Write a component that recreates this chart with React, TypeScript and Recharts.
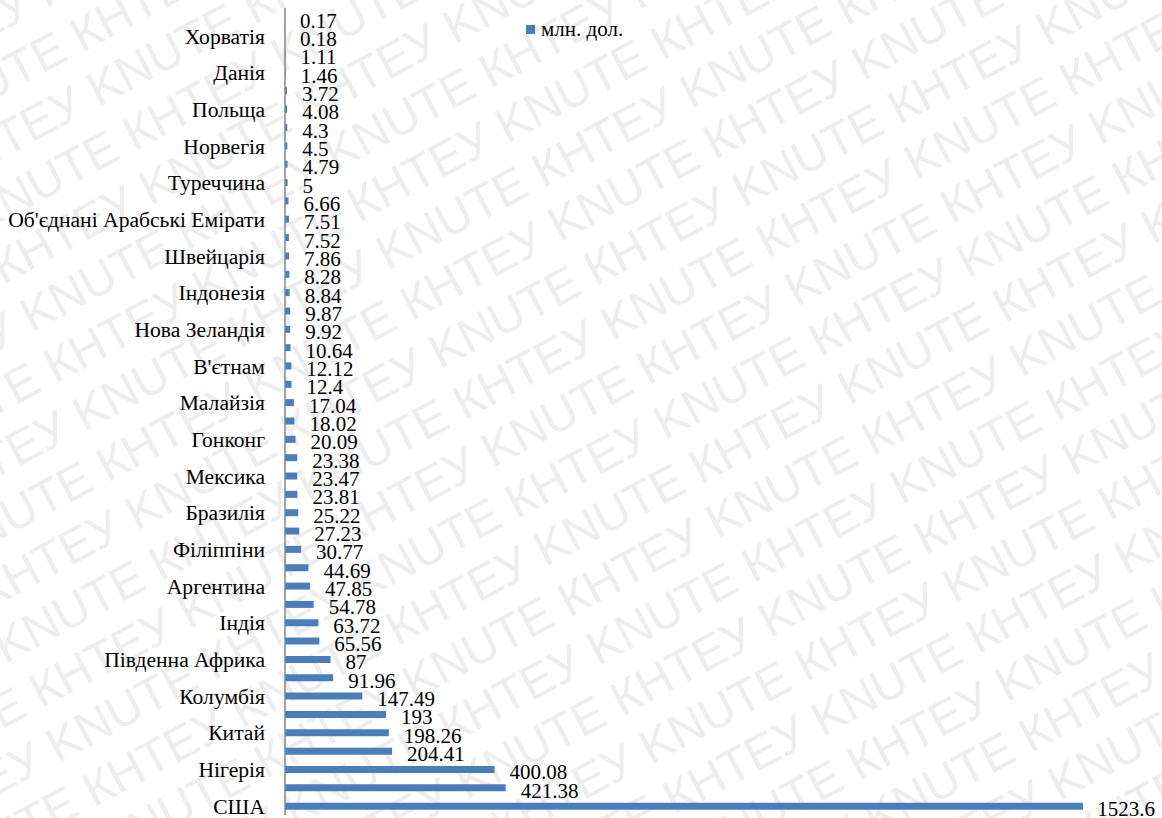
import { BarChart, Bar, XAxis, YAxis, LabelList } from "recharts";

// країни (порожні рядки — підписи, які на осі не показуються)
const countries = [
  "", "Хорватія", "", "Данія", "", "Польща", "", "Норвегія", "", "Туреччина",
  "", "Об'єднані Арабські Емірати", "", "Швейцарія", "", "Індонезія", "", "Нова Зеландія",
  "", "В'єтнам", "", "Малайзія", "", "Гонконг", "", "Мексика", "", "Бразилія",
  "", "Філіппіни", "", "Аргентина", "", "Індія", "", "Південна Африка", "", "Колумбія",
  "", "Китай", "", "Нігерія", "", "США",
];

// млн. дол.
const values = [
  0.17, 0.18, 1.11, 1.46, 3.72, 4.08, 4.3, 4.5, 4.79, 5,
  6.66, 7.51, 7.52, 7.86, 8.28, 8.84, 9.87, 9.92, 10.64, 12.12,
  12.4, 17.04, 18.02, 20.09, 23.38, 23.47, 23.81, 25.22, 27.23, 30.77,
  44.69, 47.85, 54.78, 63.72, 65.56, 87, 91.96, 147.49, 193, 198.26,
  204.41, 400.08, 421.38, 1523.6,
];

const seriesName = "млн. дол.";

const data = values.map((v, i) => ({ idx: i, country: countries[i], value: v }));

const W = 1162;
const H = 818;
const FONT = "'Liberation Serif', 'Times New Roman', serif";
const BLUE = "#4a7ebb";

function Watermark() {
  const rows = [];
  const phrase = "KNUTE КНТЕУ ".repeat(14);
  for (let r = 0; r < 46; r++) {
    rows.push(
      <text key={r} x={-900 + (r % 2) * 165} y={-700 + r * 56} fontSize={48}>
        {phrase}
      </text>
    );
  }
  return (
    <svg width={W} height={H} style={{ position: "absolute", left: 0, top: 0 }}>
      <g
        transform={`rotate(-28 ${W / 2} ${H / 2})`}
        fill="#ededed"
        fontFamily="'Liberation Sans', Arial, sans-serif"
      >
        {rows}
      </g>
    </svg>
  );
}

function CountryTick(props: any) {
  const { x, y, payload } = props;
  return (
    <text
      x={x}
      y={y + 1}
      textAnchor="end"
      dominantBaseline="central"
      fontFamily={FONT}
      fontSize={21.6}
      fill="#000"
    >
      {countries[payload.value]}
    </text>
  );
}

function ValueLabel(props: any) {
  const { x, y, width, height, value } = props;
  const text = String(value);
  const textW = [...text].reduce((s, c) => s + (c === "." ? 5.25 : 10.5), 0);
  const lx = Math.min(x + width + 15, W - 7 - textW);
  return (
    <text
      x={lx}
      y={y + height / 2 + 3}
      dominantBaseline="central"
      fontFamily={FONT}
      fontSize={21}
      fill="#000"
    >
      {text}
    </text>
  );
}

function LegendBox() {
  return (
    <div
      style={{
        position: "absolute",
        left: 526,
        top: 18,
        display: "flex",
        alignItems: "center",
        fontFamily: FONT,
        fontSize: 21,
        lineHeight: "22px",
      }}
    >
      <span style={{ width: 9, height: 9, background: BLUE, display: "inline-block", marginRight: 6 }} />
      <span>{seriesName}</span>
    </div>
  );
}

export default function App() {
  return (
    <div style={{ position: "absolute", left: 0, top: 0, width: W, height: H, background: "#fff" }}>
      <Watermark />
      <div style={{ position: "absolute", left: 0, top: 0 }}>
        <BarChart
          width={W}
          height={H}
          data={data}
          layout="vertical"
          margin={{ top: 8, right: 39, bottom: 3, left: 0 }}
          barCategoryGap={0}
        >
          <XAxis type="number" domain={[0, 1600]} hide />
          <YAxis
            type="category"
            dataKey="idx"
            width={285}
            interval={0}
            tickLine={false}
            tickMargin={14}
            axisLine={{ stroke: "#868686", strokeWidth: 1.5 }}
            tick={<CountryTick />}
          />
          <Bar dataKey="value" name={seriesName} fill={BLUE} barSize={7} isAnimationActive={false}>
            <LabelList dataKey="value" content={<ValueLabel />} />
          </Bar>
        </BarChart>
      </div>
      <LegendBox />
    </div>
  );
}
